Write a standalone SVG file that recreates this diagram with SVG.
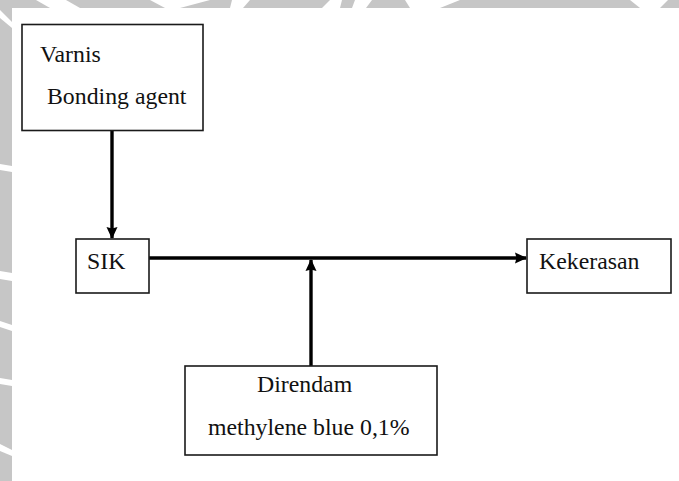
<svg xmlns="http://www.w3.org/2000/svg" width="679" height="481" viewBox="0 0 679 481">
  <style>
    .box { fill: #ffffff; stroke: #1a1a1a; stroke-width: 1.6; }
    .lbl { font-family: "Liberation Serif", "Times New Roman", serif; font-size: 23.8px; fill: #111111; }
    .conn { stroke: #000000; stroke-width: 3.4; fill: none; }
    .wm { fill: #c6c6c6; }
    .wmw { fill: #ffffff; }
  </style>
  <defs>
    <marker id="arrow" viewBox="0 0 12 12" refX="11" refY="6" markerWidth="12" markerHeight="12" markerUnits="userSpaceOnUse" orient="auto">
      <path d="M0,0.5 L12,6 L0,11.5 L1.5,6 Z" fill="#000000"/>
    </marker>
  </defs>
  <rect x="0" y="0" width="679" height="481" fill="#ffffff"/>
  <g id="watermark">
    <rect class="wm" x="0" y="0" width="679" height="8"/>
    <rect class="wm" x="0" y="0" width="12" height="481"/>
    <polygon class="wmw" points="36,0 66,0 80,8 50,8"/>
    <polygon class="wmw" points="150,0 210,0 180,8 165,8"/>
    <polygon class="wmw" points="232,0 250,0 243,8 230,8"/>
    <polygon class="wmw" points="330,0 342,0 340,8 322,8"/>
    <polygon class="wmw" points="355,0 372,0 366,8 352,8"/>
    <polygon class="wmw" points="405,0 460,0 440,8 410,8"/>
    <polygon class="wmw" points="630,0 668,0 660,8 640,8"/>
    <polygon class="wmw" points="0,10 12,22 12,28 0,18"/>
    <polygon class="wmw" points="0,164 12,166 12,172 0,170"/>
    <polygon class="wmw" points="0,271 12,273 12,281 0,279"/>
    <polygon class="wmw" points="0,321 12,325 12,331 0,327"/>
    <polygon class="wmw" points="0,378 12,380 12,386 0,384"/>
    <polygon class="wmw" points="0,444 12,450 12,456 0,451"/>
  </g>
  <g id="connectors">
    <line class="conn" x1="112" y1="131" x2="112" y2="238" marker-end="url(#arrow)"/>
    <line class="conn" x1="149" y1="258" x2="526" y2="258" marker-end="url(#arrow)"/>
    <line class="conn" x1="311" y1="366" x2="311" y2="260" marker-end="url(#arrow)"/>
  </g>
  <g id="node-varnis">
    <rect class="box" x="22" y="24.5" width="181" height="106"/>
    <text class="lbl" x="40" y="62">Varnis</text>
    <text class="lbl" x="47" y="104">Bonding agent</text>
  </g>
  <g id="node-sik">
    <rect class="box" x="76" y="239" width="73" height="54"/>
    <text class="lbl" x="87" y="269">SIK</text>
  </g>
  <g id="node-kekerasan">
    <rect class="box" x="527" y="239" width="144" height="54"/>
    <text class="lbl" x="539" y="269">Kekerasan</text>
  </g>
  <g id="node-direndam">
    <rect class="box" x="185" y="366" width="252" height="89"/>
    <text class="lbl" x="257" y="392">Direndam</text>
    <text class="lbl" x="208" y="435">methylene blue 0,1%</text>
  </g>
</svg>
